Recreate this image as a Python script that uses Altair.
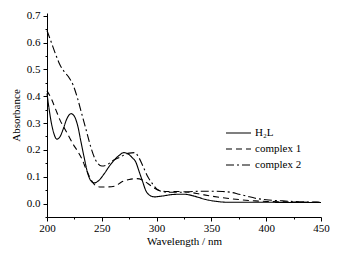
import altair as alt
import pandas as pd

series_names = ["H₂L", "complex 1", "complex 2"]

h2l_wl = [200, 202, 204, 206, 209, 212, 215, 218, 222, 225, 228, 231, 234, 237, 240, 243, 247, 252, 257, 262,
          266, 270, 274, 278, 281, 284, 287, 290, 294, 298, 305, 315, 325, 335, 345, 355, 365, 380, 400, 420, 450]
h2l_abs = [0.41, 0.35, 0.30, 0.265, 0.24, 0.25, 0.28, 0.315, 0.335, 0.325, 0.29, 0.23, 0.17, 0.115, 0.085, 0.077,
           0.085, 0.11, 0.14, 0.165, 0.18, 0.19, 0.185, 0.17, 0.155, 0.12, 0.085, 0.05, 0.03, 0.025, 0.028, 0.034,
           0.035, 0.027, 0.015, 0.008, 0.005, 0.005, 0.005, 0.004, 0.004]

c1_wl = [200, 204, 208, 212, 216, 220, 224, 228, 232, 236, 240, 244, 248, 255, 262, 268, 275, 282, 287, 292,
         297, 303, 310, 320, 330, 340, 350, 360, 375, 390, 400, 420, 450]
c1_abs = [0.42, 0.39, 0.35, 0.31, 0.28, 0.25, 0.22, 0.195, 0.165, 0.125, 0.09, 0.068, 0.062, 0.062, 0.065, 0.08,
          0.09, 0.093, 0.088, 0.075, 0.06, 0.048, 0.045, 0.045, 0.042, 0.035, 0.028, 0.022, 0.015, 0.01, 0.008,
          0.006, 0.005]

c2_wl = [200, 204, 208, 212, 216, 220, 224, 228, 232, 236, 240, 244, 250, 255, 260, 265, 270, 275, 280, 284,
         288, 292, 296, 300, 305, 312, 320, 330, 340, 350, 360, 368, 375, 382, 390, 400, 415, 430, 450]
c2_abs = [0.645, 0.60, 0.555, 0.515, 0.49, 0.47, 0.44, 0.39, 0.33, 0.27, 0.21, 0.165, 0.14, 0.145, 0.16, 0.17,
          0.18, 0.188, 0.19, 0.17, 0.135, 0.10, 0.075, 0.055, 0.045, 0.042, 0.042, 0.044, 0.046, 0.046, 0.045,
          0.042, 0.035, 0.028, 0.02, 0.014, 0.01, 0.007, 0.005]

x_major = [200, 250, 300, 350, 400, 450]
x_minor = [225, 275, 325, 375, 425]
y_major = [0.0, 0.1, 0.2, 0.3, 0.4, 0.5, 0.6, 0.7]
y_minor = [-0.05, 0.05, 0.15, 0.25, 0.35, 0.45, 0.55, 0.65]

FONT = "Liberation Serif, Times New Roman, Times, serif"

rows = []
for name, wl, ab in [(series_names[0], h2l_wl, h2l_abs),
                     (series_names[1], c1_wl, c1_abs),
                     (series_names[2], c2_wl, c2_abs)]:
    for i, (w, a) in enumerate(zip(wl, ab)):
        rows.append({"series": name, "wl": w, "abs": a, "order": i})
df = pd.DataFrame(rows)

xscale = alt.Scale(domain=[200, 450], nice=False)
yscale = alt.Scale(domain=[-0.05, 0.71], nice=False, zero=False)

lines = alt.Chart(df).mark_line(interpolate="monotone", strokeWidth=1.1, color="black").encode(
    x=alt.X("wl:Q", scale=xscale,
            axis=alt.Axis(title="Wavelength / nm", values=x_major, tickSize=4, labelPadding=1,
                          labelFlush=False, titlePadding=2, grid=False, orient="bottom")),
    y=alt.Y("abs:Q", scale=yscale,
            axis=alt.Axis(title="Absorbance", values=y_major, tickSize=4, labelPadding=3,
                          labelFlush=False, format=".1f", titlePadding=5, grid=False, orient="left")),
    strokeDash=alt.StrokeDash("series:N",
                              scale=alt.Scale(domain=series_names,
                                              range=[[1, 0], [6, 4], [8, 3, 2, 3]]),
                              legend=alt.Legend(title=None, orient="none", legendX=178, legendY=113,
                                                symbolType="stroke", symbolSize=625,
                                                symbolStrokeWidth=1.2, symbolStrokeColor="black",
                                                clipHeight=14, labelOffset=3, padding=0,
                                                labelFontSize=11, labelFont=FONT)),
    order="order:Q",
)

minor = alt.Chart(df).mark_point(opacity=0).encode(
    x=alt.X("wl:Q", scale=xscale,
            axis=alt.Axis(title=None, values=x_minor, tickSize=2, labels=False, domain=False,
                          grid=False, orient="bottom")),
    y=alt.Y("abs:Q", scale=yscale,
            axis=alt.Axis(title=None, values=y_minor, tickSize=2, labels=False, domain=False,
                          grid=False, orient="left")),
)

chart = alt.layer(lines, minor).resolve_axis(x="independent", y="independent").properties(
    width=274, height=204,
    autosize=alt.AutoSizeParams(type="none"),
    padding={"left": 39, "top": 5, "right": 9, "bottom": 30},
).configure(font=FONT).configure_axis(
    labelFont=FONT, titleFont=FONT,
    labelFontSize=11, titleFontSize=11, titleFontWeight="normal",
    domainColor="black", tickColor="black", labelColor="black", titleColor="black",
    domainWidth=1, tickWidth=1,
).configure_legend(labelFont=FONT, labelColor="black").configure_view(stroke=None)

chart.save("out.html", embed_options={"renderer": "svg", "actions": False})
